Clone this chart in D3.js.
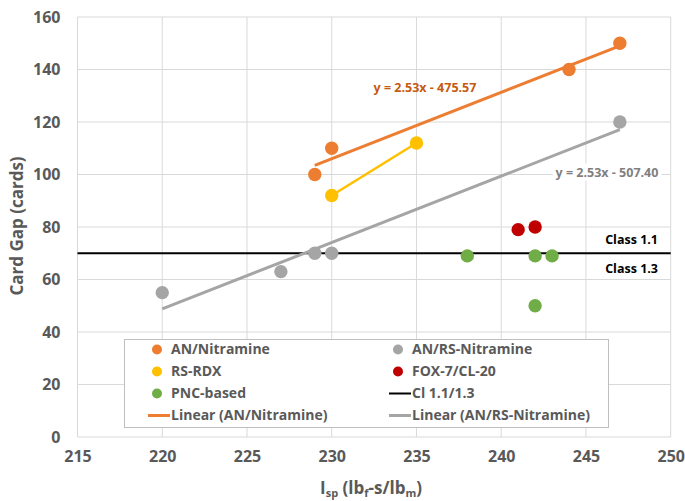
<!DOCTYPE html>
<html>
<head>
<meta charset="utf-8">
<script src="https://cdn.jsdelivr.net/npm/d3@7"></script>
<style>
  html, body { margin: 0; padding: 0; background: #fff; }
  svg { display: block; font-family: "Open Sans", "Liberation Sans", sans-serif; }
</style>
</head>
<body>
<svg id="chart" width="685" height="501"></svg>
<script>
// ---- Data ----
const xTicks = [215, 220, 225, 230, 235, 240, 245, 250];
const yTicks = [0, 20, 40, 60, 80, 100, 120, 140, 160];

const anNitramineX = [229, 230, 244, 247];
const anNitramineY = [100, 110, 140, 150];

const anRsNitramineX = [220, 227, 229, 230, 247];
const anRsNitramineY = [55, 63, 70, 70, 120];

const rsRdxX = [230, 235];
const rsRdxY = [92, 112];

const foxX = [241, 242];
const foxY = [79, 80];

const pncX = [238, 242, 243, 242];
const pncY = [69, 69, 69, 50];

const classLineX = [215, 250];
const classLineY = [70, 70];

const legendLabels = ["AN/Nitramine", "AN/RS-Nitramine", "RS-RDX", "FOX-7/CL-20",
  "PNC-based", "Cl 1.1/1.3", "Linear (AN/Nitramine)", "Linear (AN/RS-Nitramine)"];

// ---- Setup ----
const svg = d3.select("#chart");
const x = d3.scaleLinear().domain([215, 250]).range([77.5, 670.7]);
const y = d3.scaleLinear().domain([0, 160]).range([437, 17]);

const colors = {
  orange: "#ED7D31", gray: "#A5A5A5", yellow: "#FFC000",
  red: "#C00000", green: "#70AD47", black: "#000000"
};
const textGray = "#595959";

function zip(xs, ys) { return xs.map((v, i) => ({ x: v, y: ys[i] })); }

function linreg(xs, ys) {
  const mx = d3.mean(xs), my = d3.mean(ys);
  let sxy = 0, sxx = 0;
  xs.forEach((v, i) => { sxy += (v - mx) * (ys[i] - my); sxx += (v - mx) * (v - mx); });
  const m = sxy / sxx;
  return { m, b: my - m * mx };
}

// ---- Gridlines ----
const grid = svg.append("g");
grid.selectAll("line.v").data(xTicks).join("line")
  .attr("x1", d => x(d)).attr("x2", d => x(d))
  .attr("y1", y(0)).attr("y2", y(160))
  .attr("stroke", "#d9d9d9").attr("stroke-width", 1);
grid.selectAll("line.h").data(yTicks).join("line")
  .attr("x1", x(215)).attr("x2", x(250))
  .attr("y1", d => y(d)).attr("y2", d => y(d))
  .attr("stroke", "#d9d9d9").attr("stroke-width", 1);

// ---- Axes (labels only, via d3 axes) ----
const yAxis = d3.axisLeft(y).tickValues(yTicks).tickSize(0).tickPadding(17);
const gy = svg.append("g").attr("transform", `translate(${x(215)},0)`).call(yAxis);
gy.select(".domain").remove();
gy.selectAll("text").attr("font-size", 16).attr("font-weight", "bold")
  .attr("fill", textGray).attr("font-family", "Open Sans");

const xAxis = d3.axisBottom(x).tickValues(xTicks).tickSize(0).tickPadding(14);
const gx = svg.append("g").attr("transform", `translate(0,${y(0)})`).call(xAxis);
gx.select(".domain").remove();
gx.selectAll("text").attr("font-size", 16).attr("font-weight", "bold")
  .attr("fill", textGray).attr("font-family", "Open Sans");

// ---- Class line ----
const line = d3.line().x(d => x(d.x)).y(d => y(d.y));
svg.append("path").datum(zip(classLineX, classLineY)).attr("d", line)
  .attr("stroke", colors.black).attr("stroke-width", 2).attr("fill", "none");

// ---- Trendlines ----
const regO = linreg(anNitramineX, anNitramineY);
const regG = linreg(anRsNitramineX, anRsNitramineY);
const trendO = d3.extent(anNitramineX).map(v => ({ x: v, y: regO.m * v + regO.b }));
const trendG = d3.extent(anRsNitramineX).map(v => ({ x: v, y: regG.m * v + regG.b }));

svg.append("path").datum(trendG).attr("d", line)
  .attr("stroke", colors.gray).attr("stroke-width", 3).attr("fill", "none");
svg.append("path").datum(trendO).attr("d", line)
  .attr("stroke", colors.orange).attr("stroke-width", 3).attr("fill", "none");

// RS-RDX connecting line
svg.append("path").datum(zip(rsRdxX, rsRdxY)).attr("d", line)
  .attr("stroke", colors.yellow).attr("stroke-width", 2.5).attr("fill", "none");

// ---- Points ----
function pts(xs, ys, c) {
  svg.append("g").selectAll("circle").data(zip(xs, ys)).join("circle")
    .attr("cx", d => x(d.x)).attr("cy", d => y(d.y)).attr("r", 6.7).attr("fill", c);
}
pts(anRsNitramineX, anRsNitramineY, colors.gray);
pts(anNitramineX, anNitramineY, colors.orange);
pts(rsRdxX, rsRdxY, colors.yellow);
pts(foxX, foxY, colors.red);
pts(pncX, pncY, colors.green);

// ---- Equation labels ----
function fmtEq(r) {
  const s = r.b < 0 ? " - " : " + ";
  return `y = ${r.m.toFixed(2)}x${s}${Math.abs(r.b).toFixed(2)}`;
}
svg.append("text").attr("x", 425).attr("y", 92).attr("text-anchor", "middle")
  .attr("font-size", 12.5).attr("font-weight", "bold").attr("fill", "#C55A11")
  .text(fmtEq(regO));

const gl = svg.append("g");
const glText = gl.append("text").attr("x", 607).attr("y", 176.5).attr("text-anchor", "middle")
  .attr("font-size", 12.5).attr("font-weight", "bold").attr("fill", "#7F7F7F")
  .text(fmtEq(regG));
const bb = glText.node().getBBox();
gl.insert("rect", "text").attr("x", bb.x - 3).attr("y", bb.y).attr("width", bb.width + 6)
  .attr("height", bb.height).attr("fill", "#fff");

// ---- Class labels ----
svg.append("text").attr("x", 658).attr("y", 243.5).attr("text-anchor", "end")
  .attr("font-size", 12.5).attr("font-weight", "bold").attr("fill", "#000").text("Class 1.1");
svg.append("text").attr("x", 658).attr("y", 272.5).attr("text-anchor", "end")
  .attr("font-size", 12.5).attr("font-weight", "bold").attr("fill", "#000").text("Class 1.3");

// ---- Axis titles ----
svg.append("text").attr("transform", "translate(23,226) rotate(-90)")
  .attr("text-anchor", "middle").attr("font-size", 17).attr("font-weight", "bold")
  .attr("fill", textGray).text("Card Gap (cards)");

const xt = svg.append("text").attr("x", 371).attr("y", 494).attr("text-anchor", "middle")
  .attr("font-size", 17).attr("font-weight", "bold").attr("fill", textGray);
xt.append("tspan").text("I");
xt.append("tspan").attr("font-size", 11).attr("dy", 3).text("sp");
xt.append("tspan").attr("dy", -3).text(" (lb");
xt.append("tspan").attr("font-size", 11).attr("dy", 3).text("f");
xt.append("tspan").attr("dy", -3).text("-s/lb");
xt.append("tspan").attr("font-size", 11).attr("dy", 3).text("m");
xt.append("tspan").attr("dy", -3).text(")");

// ---- Legend ----
const lg = svg.append("g");
lg.append("rect").attr("x", 124.5).attr("y", 339.5).attr("width", 484).attr("height", 88)
  .attr("fill", "#fff").attr("stroke", "#bfbfbf").attr("stroke-width", 1);
const legendItems = [
  { type: "dot", c: colors.orange }, { type: "dot", c: colors.gray },
  { type: "dot", c: colors.yellow }, { type: "dot", c: colors.red },
  { type: "dot", c: colors.green }, { type: "line", c: colors.black, w: 2 },
  { type: "line", c: colors.orange, w: 3 }, { type: "line", c: colors.gray, w: 3 }
];
const colX = [148, 389];
const rowY0 = 349.5, rowStep = 22;
legendItems.forEach((it, i) => {
  const col = i % 2, row = Math.floor(i / 2);
  const cy = rowY0 + row * rowStep;
  const x0 = colX[col];
  if (it.type === "dot") {
    lg.append("circle").attr("cx", x0 + 9).attr("cy", cy).attr("r", 5).attr("fill", it.c);
  } else {
    lg.append("line").attr("x1", x0).attr("x2", x0 + 22).attr("y1", cy).attr("y2", cy)
      .attr("stroke", it.c).attr("stroke-width", it.w);
  }
  lg.append("text").attr("x", x0 + 23).attr("y", cy).attr("dy", "0.35em")
    .attr("font-size", 14).attr("font-weight", "bold").attr("fill", textGray)
    .text(legendLabels[i]);
});
</script>
</body>
</html>
